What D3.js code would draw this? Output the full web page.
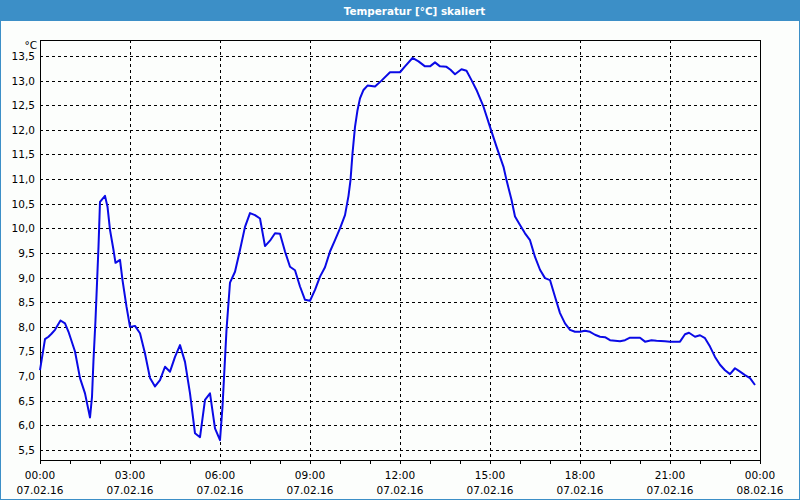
<!DOCTYPE html>
<html>
<head>
<meta charset="utf-8">
<script src="https://cdn.jsdelivr.net/npm/d3@7"></script>
<style>
  body { margin: 0; background: #fff; }
  svg { display: block; }
</style>
</head>
<body>
<div id="chart"></div>
<script>
const title = "Temperatur [°C] skaliert";
const unit = "°C";

// minutes after 00:00 on 07.02.16
const minutes = [
  0, 10, 17, 23, 30, 41, 50, 57, 70, 80, 90, 100, 104, 107, 111, 117, 120, 130, 135, 140,
  147, 151, 160, 165, 173, 180, 190, 200, 210, 220, 230, 240, 250, 260, 270, 280, 290, 300,
  310, 320, 330, 340, 350, 360, 365, 373, 380, 390, 400, 410, 420, 430, 440, 450, 460, 470,
  480, 490, 500, 510, 520, 530, 540, 550, 560, 570, 580, 590, 600, 610, 617, 621, 625, 630,
  635, 640, 647, 655, 670, 683, 700, 720, 730, 745, 757, 770, 780, 790, 800, 813, 821, 830,
  843, 853, 863, 873, 887, 900, 913, 927, 933, 943, 950, 960, 970, 980, 990, 1000, 1010,
  1020, 1030, 1040, 1050, 1060, 1070, 1080, 1090, 1100, 1110, 1120, 1130, 1140, 1150, 1160,
  1170, 1180, 1200, 1210, 1223, 1233, 1250, 1260, 1280, 1290, 1298, 1310, 1320, 1330, 1340,
  1350, 1360, 1370, 1380, 1390, 1400, 1410, 1420, 1430
];
const temps = [
  7.12, 7.75, 7.80, 7.86, 7.94, 8.13, 8.07, 7.90, 7.50, 6.96, 6.65, 6.16, 6.58, 7.33, 8.14, 9.63, 10.54, 10.66, 10.44, 9.97,
  9.56, 9.30, 9.36, 8.95, 8.41, 8.00, 8.02, 7.87, 7.46, 6.96, 6.79, 6.92, 7.19, 7.09, 7.39, 7.63, 7.29, 6.65,
  5.84, 5.76, 6.52, 6.65, 5.94, 5.70, 6.38, 7.94, 8.90, 9.12, 9.56, 10.03, 10.31, 10.27, 10.20, 9.64, 9.75, 9.90,
  9.89, 9.53, 9.22, 9.15, 8.82, 8.55, 8.53, 8.75, 9.02, 9.21, 9.53, 9.76, 10.00, 10.27, 10.66, 10.98, 11.52, 12.06,
  12.40, 12.64, 12.81, 12.90, 12.88, 13.00, 13.17, 13.17, 13.29, 13.46, 13.39, 13.29, 13.29, 13.37, 13.29, 13.28, 13.22, 13.13,
  13.23, 13.20, 13.01, 12.81, 12.47, 12.06, 11.66, 11.25, 10.98, 10.58, 10.24, 10.07, 9.90, 9.76, 9.42, 9.16, 8.99,
  8.95, 8.61, 8.28, 8.07, 7.94, 7.90, 7.90, 7.92, 7.90, 7.84, 7.80, 7.79, 7.73, 7.72, 7.71,
  7.73, 7.78, 7.78, 7.70, 7.73, 7.72, 7.71, 7.70, 7.70, 7.85, 7.88, 7.80, 7.83, 7.77, 7.60,
  7.39, 7.23, 7.12, 7.04, 7.16, 7.09, 7.02, 6.96, 6.82
];

const xTicks = [0, 180, 360, 540, 720, 900, 1080, 1260, 1440];
const timeLabels = ["00:00", "03:00", "06:00", "09:00", "12:00", "15:00", "18:00", "21:00", "00:00"];
const dateLabels = ["07.02.16", "07.02.16", "07.02.16", "07.02.16", "07.02.16", "07.02.16", "07.02.16", "07.02.16", "08.02.16"];
const yTicks = [5.5, 6.0, 6.5, 7.0, 7.5, 8.0, 8.5, 9.0, 9.5, 10.0, 10.5, 11.0, 11.5, 12.0, 12.5, 13.0, 13.5];

const W = 800, H = 500;
const plot = { left: 40, top: 40, right: 760, bottom: 460 };
const font = "'DejaVu Sans', Verdana, sans-serif";

const svg = d3.select("#chart").append("svg")
  .attr("width", W)
  .attr("height", H)
  .attr("viewBox", `0 0 ${W} ${H}`);

svg.append("rect")
  .attr("x", 0.5).attr("y", 0.5)
  .attr("width", W - 1).attr("height", H - 1)
  .attr("fill", "#fcfefc")
  .attr("stroke", "#3c8fc7");

svg.append("rect")
  .attr("x", 0).attr("y", 0)
  .attr("width", W).attr("height", 21)
  .attr("fill", "#3c8fc7");

// the title sits a bit right of the centre in the original
svg.append("text")
  .attr("x", 414.5).attr("y", 14.5)
  .attr("text-anchor", "middle")
  .attr("font-family", font)
  .attr("font-size", 10.4)
  .attr("font-weight", "bold")
  .attr("fill", "#fff")
  .text(title);

const x = d3.scaleLinear().domain([0, 1440]).range([plot.left, plot.right]);
// 5,5 sits 10px above the bottom edge, 13,5 sits 16px below the top edge
const pxPerUnit = (450 - 56) / 8;
const y = d3.scaleLinear()
  .domain([5.5 - 10 / pxPerUnit, 13.5 + 16 / pxPerUnit])
  .range([plot.bottom, plot.top]);

const grid = svg.append("g")
  .attr("stroke", "#000")
  .attr("stroke-width", 1)
  .attr("stroke-dasharray", "3,3")
  .attr("shape-rendering", "crispEdges");

grid.selectAll(".hgrid")
  .data(yTicks)
  .join("line")
  .attr("x1", plot.left).attr("x2", plot.right)
  .attr("y1", d => Math.round(y(d)) + 0.5)
  .attr("y2", d => Math.round(y(d)) + 0.5);

grid.selectAll(".vgrid")
  .data(xTicks.slice(1, -1))
  .join("line")
  .attr("y1", plot.top).attr("y2", plot.bottom)
  .attr("x1", d => Math.round(x(d)) + 0.5)
  .attr("x2", d => Math.round(x(d)) + 0.5);

// x axis: hourly ticks, labels every 3 h
const xAxis = d3.axisBottom(x)
  .tickValues(d3.range(0, 1441, 60))
  .tickSize(4)
  .tickFormat("");
svg.append("g")
  .attr("transform", `translate(0,${plot.bottom})`)
  .call(xAxis)
  .call(g => g.select(".domain").remove())
  .call(g => g.selectAll("line").attr("stroke", "#000"));

const xl = svg.append("g")
  .attr("font-family", font)
  .attr("font-size", 10.5)
  .attr("fill", "#000")
  .attr("text-anchor", "middle");
xl.selectAll(".t")
  .data(xTicks)
  .join("text")
  .attr("x", d => x(d))
  .attr("y", 479)
  .text((d, i) => timeLabels[i]);
xl.selectAll(".d")
  .data(xTicks)
  .join("text")
  .attr("x", d => x(d))
  .attr("y", 494)
  .text((d, i) => dateLabels[i]);

// y axis labels
const yAxis = d3.axisLeft(y)
  .tickValues(yTicks)
  .tickSize(0)
  .tickPadding(5)
  .tickFormat(d => d.toFixed(1).replace(".", ","));
svg.append("g")
  .attr("transform", `translate(${plot.left},0)`)
  .call(yAxis)
  .call(g => g.select(".domain").remove())
  .call(g => g.selectAll("text")
    .attr("font-family", font)
    .attr("font-size", 10.5)
    .attr("fill", "#000"));

svg.append("text")
  .attr("x", 37).attr("y", 49)
  .attr("text-anchor", "end")
  .attr("font-family", font)
  .attr("font-size", 10.5)
  .attr("fill", "#000")
  .text(unit);

// plot frame
svg.append("rect")
  .attr("x", plot.left + 0.5).attr("y", plot.top + 0.5)
  .attr("width", plot.right - plot.left).attr("height", plot.bottom - plot.top)
  .attr("fill", "none")
  .attr("stroke", "#000")
  .attr("shape-rendering", "crispEdges");

const data = minutes.map((m, i) => ({ m, v: temps[i] }));
const line = d3.line()
  .x(d => x(d.m))
  .y(d => y(d.v));

svg.append("path")
  .datum(data)
  .attr("d", line)
  .attr("fill", "none")
  .attr("stroke", "#0a0ae6")
  .attr("stroke-width", 2)
  .attr("stroke-linejoin", "round");
</script>
</body>
</html>
